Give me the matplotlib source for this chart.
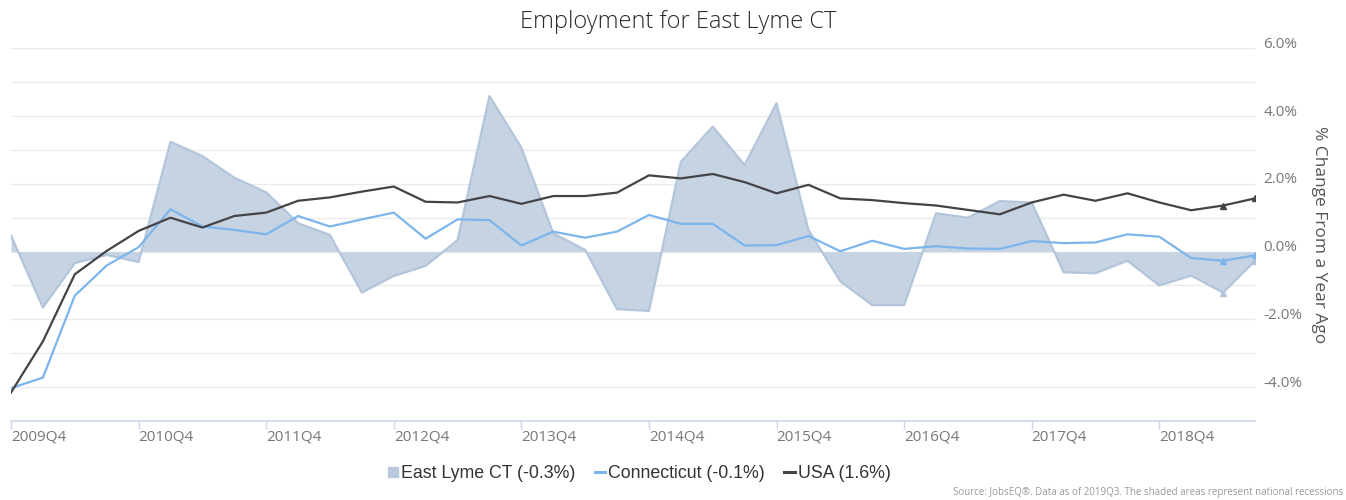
import matplotlib
matplotlib.use("Agg")
import matplotlib.pyplot as plt
import matplotlib.transforms as mtransforms
import numpy as np

# quarters 2009Q4 .. 2019Q3
quarters = ["%dQ%d" % (2009 + (q + 3) // 4, (q + 3) % 4 + 1) for q in range(40)]

east_lyme = [0.47, -1.65, -0.34, -0.10, -0.31, 3.24, 2.82, 2.18, 1.75, 0.84,
             0.49, -1.21, -0.72, -0.42, 0.34, 4.59, 3.07, 0.54, 0.05, -1.70,
             -1.75, 2.65, 3.69, 2.56, 4.38, 0.64, -0.88, -1.58, -1.58, 1.13,
             1.00, 1.49, 1.45, -0.61, -0.64, -0.27, -1.00, -0.71, -1.21, -0.27]

connecticut = [-4.03, -3.72, -1.30, -0.41, 0.13, 1.25, 0.74, 0.64, 0.51, 1.05,
               0.74, 0.95, 1.15, 0.38, 0.95, 0.93, 0.18, 0.59, 0.41, 0.59,
               1.08, 0.82, 0.82, 0.18, 0.19, 0.46, 0.01, 0.32, 0.08, 0.16,
               0.09, 0.08, 0.31, 0.25, 0.27, 0.51, 0.44, -0.19, -0.27, -0.11]

usa = [-4.16, -2.65, -0.67, 0.02, 0.61, 1.00, 0.71, 1.05, 1.15, 1.50,
       1.60, 1.77, 1.92, 1.47, 1.45, 1.64, 1.41, 1.64, 1.64, 1.74,
       2.25, 2.16, 2.29, 2.05, 1.72, 1.97, 1.57, 1.52, 1.43, 1.36,
       1.23, 1.10, 1.45, 1.68, 1.50, 1.72, 1.45, 1.22, 1.36, 1.57]

legend_labels = ["East Lyme CT (-0.3%)", "Connecticut (-0.1%)", "USA (1.6%)"]

area_fill = "#c6d3e3"
area_edge = "#b3c5da"
ct_color = "#7cb5ec"
usa_color = "#434348"

fig = plt.figure(figsize=(13.46, 5.0), dpi=100)
ax = fig.add_axes([11 / 1346, 79 / 500, 1244 / 1346, 372.7 / 500])

x = np.arange(len(quarters))
ax.fill_between(x, 0, east_lyme, color=area_fill, lw=0, zorder=2)
ax.plot(x, east_lyme, color=area_edge, lw=1.6, zorder=3,
        marker="^", markersize=4, markevery=[38, 39])
ax.plot(x, connecticut, color=ct_color, lw=1.6, zorder=4,
        marker="^", markersize=4, markevery=[38, 39])
ax.plot(x, usa, color=usa_color, lw=1.6, zorder=5,
        marker="^", markersize=4, markevery=[38, 39])

ax.set_xlim(0, len(quarters) - 1)
ax.set_ylim(-5, 6)

# x axis: ticks on each Q4
xt = [i for i, q in enumerate(quarters) if q.endswith("Q4")]
ax.set_xticks(xt)
ax.set_xticklabels([quarters[i] for i in xt], ha="left", fontsize=11,
                   color="#777777", family="Open Sans")
ax.tick_params(axis="x", length=6, width=1, color="#ccd6eb", pad=0)

# y axis on the right, labels every 2 %, grid every 1 %
ax.yaxis.tick_right()
ax.set_yticks(np.arange(-4, 7, 2))
ax.set_yticks(np.arange(-5, 7, 1), minor=True)
ax.set_yticklabels(["%.1f%%" % v for v in np.arange(-4, 7, 2)], fontsize=11,
                   color="#777777", family="Open Sans")
ax.tick_params(axis="y", which="both", length=0, pad=6)
ax.grid(axis="y", which="both", color="#ebebeb", lw=1, zorder=0)
ax.set_axisbelow(True)
shift = mtransforms.ScaledTranslation(0, 6 / 100, fig.dpi_scale_trans)
for lab in ax.get_yticklabels():
    lab.set_transform(lab.get_transform() + shift)

ax.yaxis.set_label_position("right")
ax.set_ylabel("% Change From a Year Ago", rotation=270, fontsize=12.5,
              color="#555555", family="Open Sans", labelpad=18)

for s in ["top", "left", "right"]:
    ax.spines[s].set_visible(False)
ax.spines["bottom"].set_color("#ccd6eb")
ax.spines["bottom"].set_linewidth(1.2)

fig.text(678 / 1346, 1 - 22 / 500, "Employment for East Lyme CT", ha="center",
         va="center", fontsize=17, color="#2a2a2a", family="Open Sans",
         fontweight="light")

handles = [
    plt.Line2D([], [], marker="s", ls="none", color="#b9c8dc", markersize=7),
    plt.Line2D([], [], color=ct_color, lw=2.2),
    plt.Line2D([], [], color=usa_color, lw=2.2),
]
fig.legend(handles, legend_labels, loc="center", bbox_to_anchor=(639 / 1346, 1 - 474 / 500),
           ncol=3, frameon=False, handlelength=0.6,
           handletextpad=0.15, columnspacing=1.1,
           prop={"family": "Liberation Sans", "size": 12.8})
for t in fig.legends[0].get_texts():
    t.set_color("#333333")

fig.text(1343 / 1346, 1 - 493 / 500,
         "Source: JobsEQ\u00ae. Data as of 2019Q3. The shaded areas represent national recessions",
         ha="right", va="center", fontsize=7, color="#999999", family="Open Sans")

fig.savefig("out.png", dpi=100)
